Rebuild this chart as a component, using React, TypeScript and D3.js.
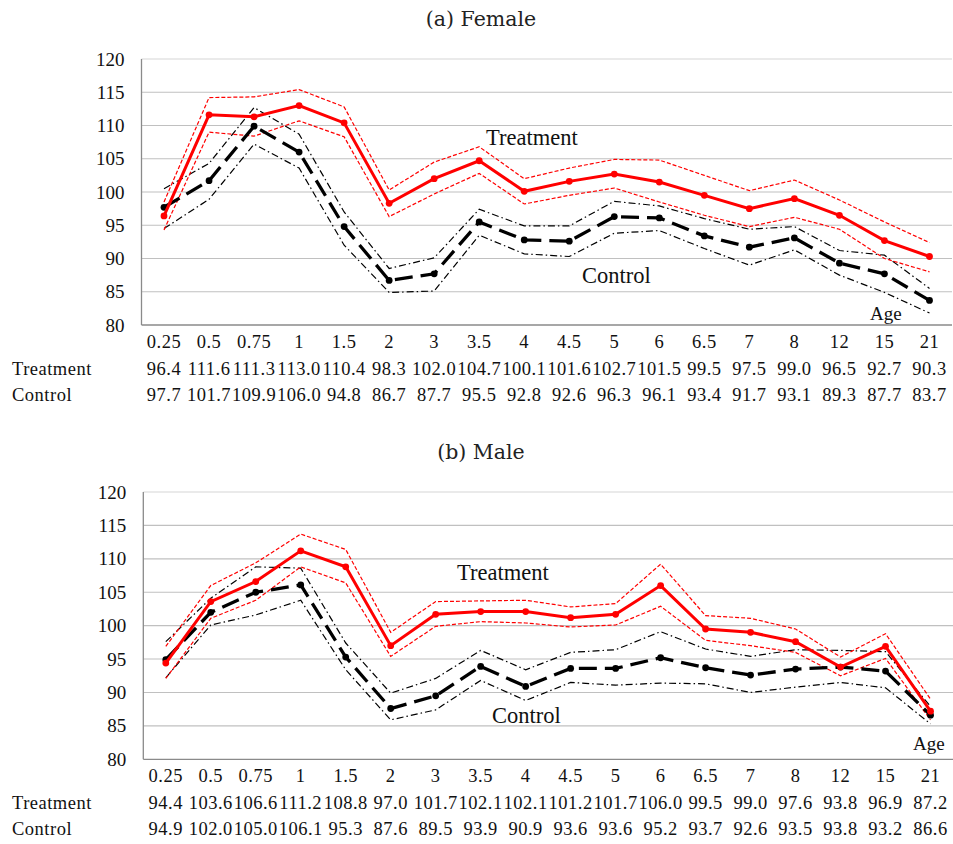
import React from "react";
import * as d3 from "d3";

// ---------- data ----------
const ages = ["0.25", "0.5", "0.75", "1", "1.5", "2", "3", "3.5", "4", "4.5", "5", "6", "6.5", "7", "8", "12", "15", "21"];
const yTicks = [80, 85, 90, 95, 100, 105, 110, 115, 120];

const femaleTreatment = [96.4, 111.6, 111.3, 113.0, 110.4, 98.3, 102.0, 104.7, 100.1, 101.6, 102.7, 101.5, 99.5, 97.5, 99.0, 96.5, 92.7, 90.3];
const femaleTreatmentUpper = [98.5, 114.2, 114.3, 115.4, 112.8, 100.3, 104.5, 106.8, 102.0, 103.6, 104.9, 104.8, 102.5, 100.2, 101.8, 98.8, 95.5, 92.4];
const femaleTreatmentLower = [94.3, 109.0, 108.4, 110.7, 108.3, 96.3, 99.7, 102.8, 98.2, 99.5, 100.6, 98.5, 96.5, 94.8, 96.2, 94.4, 90.0, 88.0];
const femaleControl = [97.7, 101.7, 109.9, 106.0, 94.8, 86.7, 87.7, 95.5, 92.8, 92.6, 96.3, 96.1, 93.4, 91.7, 93.1, 89.3, 87.7, 83.7];
const femaleControlUpper = [100.5, 104.3, 112.7, 108.7, 97.0, 88.5, 90.1, 97.4, 94.9, 94.9, 98.6, 97.9, 96.0, 94.4, 94.8, 91.2, 90.5, 85.5];
const femaleControlLower = [94.5, 98.9, 107.2, 103.6, 92.0, 84.9, 85.1, 93.5, 90.7, 90.3, 93.8, 94.2, 91.5, 89.0, 91.3, 87.5, 84.9, 81.8];

const maleTreatment = [94.4, 103.6, 106.6, 111.2, 108.8, 97.0, 101.7, 102.1, 102.1, 101.2, 101.7, 106.0, 99.5, 99.0, 97.6, 93.8, 96.9, 87.2];
const maleTreatmentUpper = [96.9, 106.0, 109.4, 113.7, 111.4, 99.0, 103.6, 103.7, 103.8, 102.8, 103.3, 109.2, 101.5, 101.1, 99.5, 95.3, 98.8, 89.0];
const maleTreatmentLower = [92.1, 101.1, 103.8, 108.8, 106.4, 95.4, 99.9, 100.6, 100.4, 99.8, 100.1, 102.9, 97.8, 97.0, 96.0, 92.5, 95.1, 85.9];
const maleControl = [94.9, 102.0, 105.0, 106.1, 95.3, 87.6, 89.5, 93.9, 90.9, 93.6, 93.6, 95.2, 93.7, 92.6, 93.5, 93.8, 93.2, 86.6];
const maleControlUpper = [97.6, 104.1, 108.8, 108.6, 97.4, 89.9, 92.1, 96.3, 93.4, 96.0, 96.4, 99.1, 96.5, 95.4, 96.4, 96.3, 96.1, 87.9];
const maleControlLower = [92.2, 100.1, 101.6, 103.8, 93.4, 85.9, 87.4, 91.8, 88.8, 91.5, 91.1, 91.4, 91.3, 90.0, 90.8, 91.5, 90.7, 85.3];

type PanelProps = {
  title: string;
  titleY: number;
  left: number;
  right: number;
  top: number;
  bottom: number;
  treat: number[];
  treatU: number[];
  treatL: number[];
  ctrl: number[];
  ctrlU: number[];
  ctrlL: number[];
  treatLabel: [number, number];
  ctrlLabel: [number, number];
  ageLabel: [number, number];
};

const SERIF: React.CSSProperties = { fontFamily: "Liberation Serif" };
const TABLE: React.CSSProperties = { fontFamily: "Liberation Serif", letterSpacing: "0.5px" };
const TITLE: React.CSSProperties = { fontFamily: "DejaVu Serif" };

function Panel(p: PanelProps) {
  const x = d3.scalePoint<string>().domain(ages).range([p.left, p.right]).padding(0.5);
  const y = d3.scaleLinear().domain([80, 120]).range([p.bottom, p.top]);
  const line = (vals: number[]) =>
    d3.line<number>().x((_, i) => x(ages[i]) as number).y((v) => y(v))(vals) || "";
  const textColor = "#111";
  return (
    <g>
      <text x={481} y={p.titleY} textAnchor="middle" style={TITLE} fontSize={20.5} fill="#222">
        {p.title}
      </text>
      {yTicks.map((t) => (
        <line key={t} x1={p.left} x2={p.right} y1={y(t)} y2={y(t)}
          stroke={t === 80 ? "#8a8a8a" : t === 120 ? "#d6d6d6" : "#c0c0c0"} strokeWidth={t === 80 ? 1.3 : 1.1} />
      ))}
      <line x1={p.left} x2={p.left} y1={p.top} y2={p.bottom} stroke="#8a8a8a" strokeWidth={1.3} />
      {yTicks.map((t) => (
        <text key={t} x={p.left - 17} y={y(t) + 6.5} textAnchor="end" style={SERIF} fontSize={19} fill={textColor}>
          {t}
        </text>
      ))}
      {/* bands */}
      <path d={line(p.ctrlU)} fill="none" stroke="#000" strokeWidth={1.2} strokeDasharray="7,3,1.5,3" />
      <path d={line(p.ctrlL)} fill="none" stroke="#000" strokeWidth={1.2} strokeDasharray="7,3,1.5,3" />
      <path d={line(p.treatU)} fill="none" stroke="#ff0000" strokeWidth={1.2} strokeDasharray="4,2" />
      <path d={line(p.treatL)} fill="none" stroke="#ff0000" strokeWidth={1.2} strokeDasharray="4,2" />
      {/* means */}
      <path d={line(p.ctrl)} fill="none" stroke="#000" strokeWidth={3.3} strokeDasharray="18,8" />
      {p.ctrl.map((v, i) => (
        <circle key={"c" + i} cx={x(ages[i]) as number} cy={y(v)} r={3.4} fill="#000" />
      ))}
      <path d={line(p.treat)} fill="none" stroke="#ff0000" strokeWidth={3} />
      {p.treat.map((v, i) => (
        <circle key={"t" + i} cx={x(ages[i]) as number} cy={y(v)} r={3.4} fill="#ff0000" />
      ))}
      <text x={p.treatLabel[0]} y={p.treatLabel[1]} style={SERIF} fontSize={22.5} fill={textColor}>Treatment</text>
      <text x={p.ctrlLabel[0]} y={p.ctrlLabel[1]} style={SERIF} fontSize={22.5} fill={textColor}>Control</text>
      <text x={p.ageLabel[0]} y={p.ageLabel[1]} style={SERIF} fontSize={19} fill={textColor}>Age</text>
      {/* table */}
      {ages.map((a) => (
        <text key={"a" + a} x={x(a) as number} y={p.bottom + 23} textAnchor="middle" style={TABLE} fontSize={18.5} fill={textColor}>
          {a}
        </text>
      ))}
      <text x={12} y={p.bottom + 50} style={TABLE} fontSize={18.5} fill={textColor}>Treatment</text>
      <text x={12} y={p.bottom + 76} style={TABLE} fontSize={18.5} fill={textColor}>Control</text>
      {p.treat.map((v, i) => (
        <text key={"tv" + i} x={x(ages[i]) as number} y={p.bottom + 50} textAnchor="middle" style={TABLE} fontSize={18.5} fill={textColor}>
          {v.toFixed(1)}
        </text>
      ))}
      {p.ctrl.map((v, i) => (
        <text key={"cv" + i} x={x(ages[i]) as number} y={p.bottom + 76} textAnchor="middle" style={TABLE} fontSize={18.5} fill={textColor}>
          {v.toFixed(1)}
        </text>
      ))}
    </g>
  );
}

export default function App() {
  return (
    <svg width={953} height={844} style={{ position: "absolute", left: 0, top: 0, background: "#fff" }}>
      <rect width={953} height={844} fill="#fff" />
      <Panel title="(a) Female" titleY={26} left={141.5} right={952} top={59} bottom={325}
        treat={femaleTreatment} treatU={femaleTreatmentUpper} treatL={femaleTreatmentLower}
        ctrl={femaleControl} ctrlU={femaleControlUpper} ctrlL={femaleControlLower}
        treatLabel={[486, 145]} ctrlLabel={[582, 283]} ageLabel={[870, 320]} />
      <Panel title="(b) Male" titleY={459} left={143.3} right={953} top={492} bottom={759.3}
        treat={maleTreatment} treatU={maleTreatmentUpper} treatL={maleTreatmentLower}
        ctrl={maleControl} ctrlU={maleControlUpper} ctrlL={maleControlLower}
        treatLabel={[457, 580]} ctrlLabel={[492, 723]} ageLabel={[913, 750]} />
    </svg>
  );
}
